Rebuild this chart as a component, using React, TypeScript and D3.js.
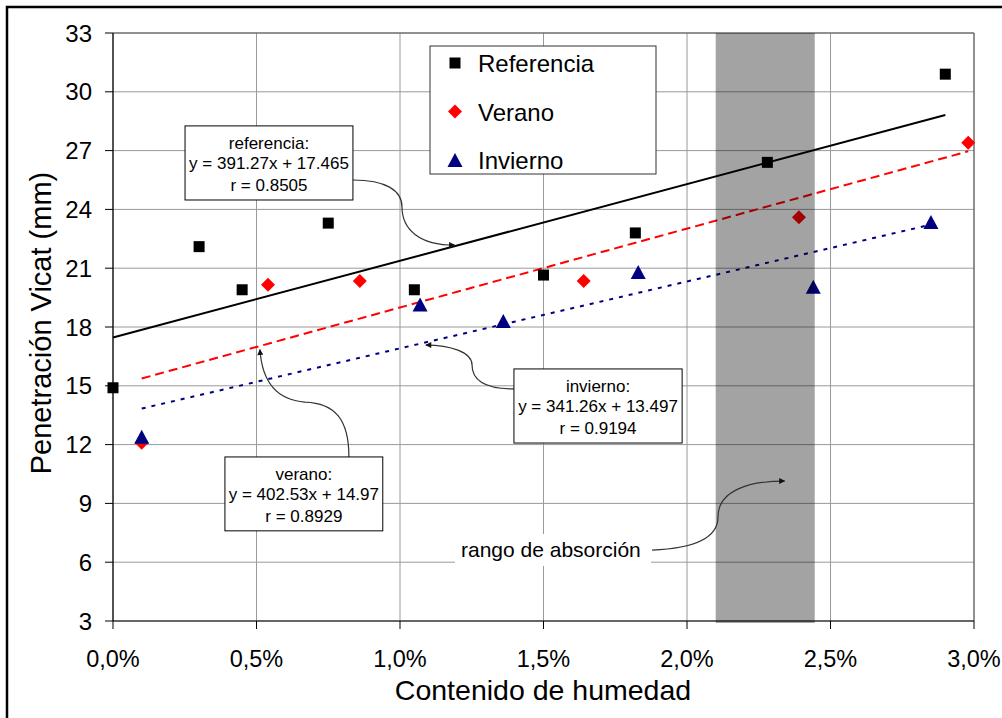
import React from "react";
import * as d3 from "d3";

// ---- data (x in %, y in mm) ----
const refX = [0, 0.3, 0.45, 0.75, 1.05, 1.5, 1.82, 2.28, 2.9];
const refY = [14.9, 22.1, 19.9, 23.3, 19.9, 20.65, 22.8, 26.4, 30.9];
const verX = [0.1, 0.54, 0.86, 1.64, 2.39, 2.98];
const verY = [12.1, 20.15, 20.35, 20.35, 23.6, 27.4];
const invX = [0.1, 1.07, 1.36, 1.83, 2.44, 2.85];
const invY = [12.35, 19.1, 18.25, 20.75, 20.0, 23.3];

const seriesNames = ["Referencia", "Verano", "Invierno"];
const slopes = [391.27, 402.53, 341.26];
const intercepts = [17.465, 14.97, 13.497];
const trendRange = [[0, 2.9], [0.1, 2.98], [0.1, 2.85]];
const callTitles = ["referencia:", "verano:", "invierno:"];
const callEq = ["y = 391.27x + 17.465", "y = 402.53x + 14.97", "y = 341.26x + 13.497"];
const callR = ["r = 0.8505", "r = 0.8929", "r = 0.9194"];

const yTicks = [3, 6, 9, 12, 15, 18, 21, 24, 27, 30, 33];
const xTicks = [0, 0.5, 1, 1.5, 2, 2.5, 3];
const band = [2.1, 2.445];

const W = 1002, H = 718;
const L = 113, R = 974, T = 33, B = 621;
const FONT = "'Liberation Sans', Arial, sans-serif";

export default function App() {
  const x = d3.scaleLinear().domain([0, 3]).range([L, R]);
  const y = d3.scaleLinear().domain([3, 33]).range([B, T]);
  const fmtX = (v: number) => d3.format(".1f")(v).replace(".", ",") + "%";

  const line = d3.line<[number, number]>().x(d => x(d[0])).y(d => y(d[1]));
  const trend = (i: number) => {
    const [a, b] = trendRange[i];
    return line([a, b].map(p => [p, intercepts[i] + slopes[i] * p / 100] as [number, number]));
  };
  const trendStyles = [
    { stroke: "#000", dash: undefined },
    { stroke: "#ff0000", dash: "9,5" },
    { stroke: "#000080", dash: "4,6" },
  ];

  const sq = (cx: number, cy: number, k: string) => (
    <rect key={k} x={cx - 5.5} y={cy - 5.5} width={11} height={11} fill="#000" />
  );
  const dia = (cx: number, cy: number, k: string) => (
    <path key={k} d={`M${cx},${cy - 7}L${cx + 7},${cy}L${cx},${cy + 7}L${cx - 7},${cy}Z`} fill="#ff0000" />
  );
  const tri = (cx: number, cy: number, k: string) => (
    <path key={k} d={`M${cx},${cy - 8}L${cx + 7.5},${cy + 6}L${cx - 7.5},${cy + 6}Z`} fill="#000080" />
  );

  // callout boxes in data coordinates: [x0%, yTop, x1%, yBottom]
  const boxes = [
    [0.251, 28.26, 0.836, 24.48],
    [0.39, 11.37, 0.94, 7.6],
    [1.397, 15.86, 1.983, 12.08],
  ];
  // arrow paths in data coords: start, c1, c2, mid, c3, c4, end
  const arrows: [number, number][][] = [
    [[0.836, 25.5], [0.948, 25.5], [1.007, 24.99], [1.007, 24.12], [1.007, 22.95], [1.07, 22.18], [1.19, 22.18]],
    [[0.822, 11.37], [0.822, 13.26], [0.774, 14.12], [0.669, 14.17], [0.564, 14.28], [0.519, 15.3], [0.512, 16.85]],
    [[1.397, 14.84], [1.296, 14.84], [1.251, 15.3], [1.251, 16.06], [1.251, 16.72], [1.174, 17.08], [1.09, 17.08]],
    [[1.878, 6.62], [2.045, 6.72], [2.108, 7.39], [2.108, 8.31], [2.108, 9.68], [2.22, 10.14], [2.34, 10.14]],
  ];
  const arrowPath = (pts: [number, number][]) => {
    const p = pts.map(d => [x(d[0]), y(d[1])]);
    return `M${p[0]}C${p[1]} ${p[2]} ${p[3]}C${p[4]} ${p[5]} ${p[6]}`;
  };

  return (
    <svg width={W} height={H} style={{ position: "absolute", left: 0, top: 0, background: "#fff" }} fontFamily={FONT}>
      <defs>
        <marker id="ah" viewBox="0 0 10 10" refX="9" refY="5" markerWidth="7" markerHeight="6" orient="auto"
          markerUnits="userSpaceOnUse">
          <path d="M0,0L10,5L0,10Z" fill="#111" />
        </marker>
      </defs>
      <rect x={0} y={0} width={W} height={H} fill="#fff" />
      <rect x={7} y={7} width={1020} height={740} fill="none" stroke="#000" strokeWidth={2.5} />

      {/* grid */}
      {yTicks.map(v => (
        <line key={"gy" + v} x1={L} x2={R} y1={y(v)} y2={y(v)} stroke="#9a9a9a" strokeWidth={1} />
      ))}
      {xTicks.map(v => (
        <line key={"gx" + v} x1={x(v)} x2={x(v)} y1={T} y2={B} stroke="#9a9a9a" strokeWidth={1} />
      ))}
      <line x1={L} x2={R} y1={T} y2={T} stroke="#555" />
      <line x1={R} x2={R} y1={T} y2={B} stroke="#555" />

      {/* trendlines */}
      {[0, 1, 2].map(i => (
        <path key={"t" + i} d={trend(i) || ""} fill="none" stroke={trendStyles[i].stroke}
          strokeWidth={2} strokeDasharray={trendStyles[i].dash} />
      ))}

      {/* points */}
      {refX.map((v, i) => sq(x(v), y(refY[i]), "r" + i))}
      {verX.map((v, i) => dia(x(v), y(verY[i]), "v" + i))}
      {invX.map((v, i) => tri(x(v), y(invY[i]), "n" + i))}

      {/* absorption band overlay */}
      <rect x={x(band[0])} y={T} width={x(band[1]) - x(band[0])} height={B - T + 2} fill="#000" fillOpacity={0.36} />

      {/* axes */}
      <line x1={L} x2={L} y1={T} y2={B} stroke="#000" strokeWidth={1.2} />
      <line x1={L} x2={R} y1={B} y2={B} stroke="#000" strokeWidth={1.2} />
      {yTicks.map(v => (
        <g key={"yt" + v}>
          <line x1={L - 8} x2={L} y1={y(v)} y2={y(v)} stroke="#000" />
          <text x={92} y={y(v) + 8.5} textAnchor="end" fontSize={24} fill="#000">{v}</text>
        </g>
      ))}
      {xTicks.map(v => (
        <g key={"xt" + v}>
          <line x1={x(v)} x2={x(v)} y1={B} y2={B + 8} stroke="#000" />
          <text x={x(v)} y={667} textAnchor="middle" fontSize={23.5} fill="#000">{fmtX(v)}</text>
        </g>
      ))}
      <text x={543} y={700} textAnchor="middle" fontSize={28.5} fill="#000">Contenido de humedad</text>
      <text transform="translate(51,323) rotate(-90)" textAnchor="middle" fontSize={29} fill="#000">Penetración Vicat (mm)</text>

      {/* legend */}
      <rect x={430} y={46} width={226} height={128} fill="#fff" stroke="#333" strokeWidth={1} />
      {seriesNames.map((n, i) => {
        const cy = 63 + i * 48.5;
        return (
          <g key={"lg" + i}>
            {i === 0 ? sq(455, cy, "ls") : i === 1 ? dia(455, cy, "ld") : tri(455, cy + 1, "lt")}
            <text x={478} y={cy + 9} fontSize={24} fill="#000">{n}</text>
          </g>
        );
      })}

      {/* rango de absorción */}
      <rect x={455} y={534} width={196} height={32} fill="#fff" />
      <text x={461} y={557} fontSize={21} fill="#000">rango de absorción</text>

      {/* arrows */}
      {arrows.map((a, i) => (
        <path key={"ar" + i} d={arrowPath(a)} fill="none" stroke="#333" strokeWidth={1.2} markerEnd="url(#ah)" />
      ))}

      {/* callouts */}
      {boxes.map((b, i) => {
        const x0 = x(b[0]), x1 = x(b[2]), y0 = y(b[1]), y1 = y(b[3]);
        const cx = (x0 + x1) / 2;
        return (
          <g key={"cb" + i}>
            <rect x={x0} y={y0} width={x1 - x0} height={y1 - y0} fill="#fff" stroke="#000" strokeWidth={1} />
            <text x={cx} y={y0 + 23} textAnchor="middle" fontSize={17} fill="#000">{callTitles[i]}</text>
            <text x={cx} y={y0 + 43} textAnchor="middle" fontSize={17} fill="#000">{callEq[i]}</text>
            <text x={cx} y={y0 + 65} textAnchor="middle" fontSize={17} fill="#000">{callR[i]}</text>
          </g>
        );
      })}
    </svg>
  );
}
